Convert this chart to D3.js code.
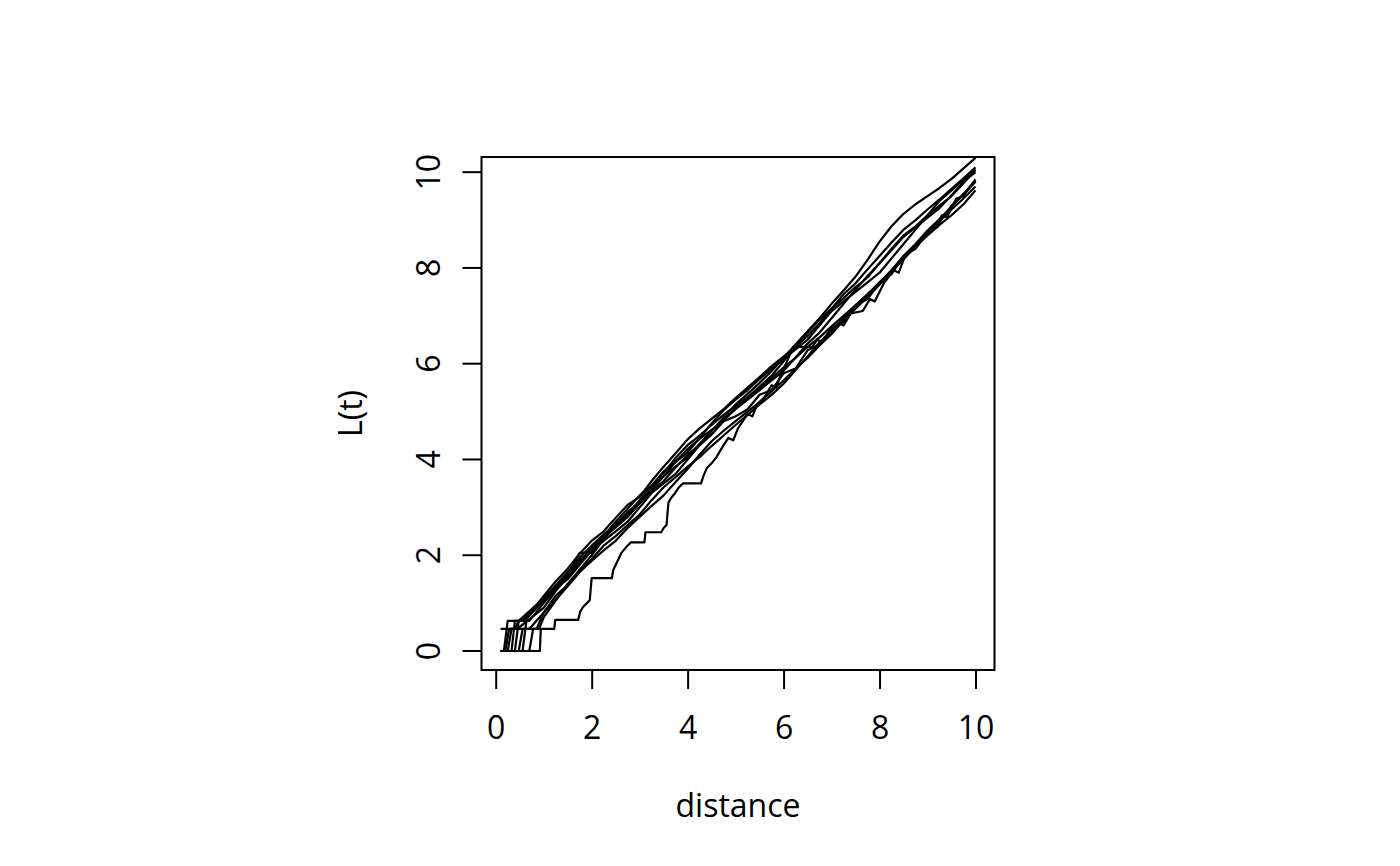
<!DOCTYPE html>
<html>
<head>
<meta charset="utf-8">
<script src="https://cdn.jsdelivr.net/npm/d3@7"></script>
<style>
  body { margin: 0; background: #fff; }
  text { font-family: "Open Sans", sans-serif; fill: #000; }
</style>
</head>
<body>
<svg id="plot" width="1400" height="866"></svg>
<script>
// tick labels
var xTicks = [0, 2, 4, 6, 8, 10];
var yTicks = [0, 2, 4, 6, 8, 10];

// shared distance grid for the smooth-ish curves
var gridX = [1, 1.25, 1.5, 1.75, 2, 2.25, 2.5, 2.75, 3, 3.25, 3.5, 3.75, 4, 4.25, 4.5, 4.75,
  5, 5.25, 5.5, 5.75, 6, 6.25, 6.5, 6.75, 7, 7.25, 7.5, 7.75, 8, 8.25, 8.5, 8.75,
  9, 9.25, 9.5, 9.75, 10];

// early steps (distance, L) of each curve, before it joins the grid
var start1 = [[0.1, 0], [0.17, 0], [0.25, 0.63], [0.55, 0.63]];
var start2 = [[0.1, 0], [0.25, 0], [0.33, 0.46], [0.7, 0.46]];
var start3 = [[0.1, 0], [0.4, 0], [0.48, 0.63], [0.6, 0.63]];
var start4 = [[0.1, 0.46], [0.45, 0.46]];
var start5 = [[0.1, 0], [0.33, 0], [0.4, 0.63], [0.6, 0.63]];
var start6 = [[0.1, 0], [0.48, 0], [0.56, 0.46], [0.85, 0.46]];
var start7 = [[0.1, 0], [0.56, 0], [0.64, 0.63], [0.7, 0.63]];
var start8 = [[0.1, 0], [0.7, 0], [0.78, 0.46], [0.9, 0.46]];
var start9 = [[0.1, 0], [0.2, 0], [0.28, 0.46], [0.4, 0.46], [0.48, 0.63]];

// L(t) values on gridX
var ys1 = [1.10,1.37,1.65,1.95,2.20,2.43,2.65,2.87,3.10,3.37,3.65,3.85,4.05,4.33,4.60,4.87,5.15,5.37,5.60,5.85,6.12,6.40,6.68,6.95,7.25,7.53,7.82,8.17,8.55,8.87,9.13,9.33,9.50,9.67,9.86,10.08,10.30];
var ys2 = [0.80,1.15,1.38,1.65,1.92,2.20,2.40,2.63,2.85,3.15,3.42,3.63,3.85,4.05,4.28,4.50,4.72,4.93,5.15,5.35,5.58,5.87,6.15,6.45,6.68,6.95,7.22,7.45,7.68,7.95,8.22,8.45,8.68,8.90,9.10,9.33,9.62];
var ys3 = [1.15,1.45,1.72,2.03,2.30,2.50,2.78,3.05,3.22,3.55,3.85,4.13,4.42,4.65,4.85,5.05,5.28,5.50,5.72,5.95,6.15,6.37,6.65,6.93,7.15,7.37,7.60,7.80,8.10,8.40,8.68,8.87,9.10,9.30,9.50,9.77,10.05];
var ys4 = [0.90,1.25,1.55,1.85,2.15,2.37,2.58,2.80,3.08,3.35,3.55,3.83,4.10,4.30,4.52,4.80,5.08,5.30,5.52,5.75,6.05,6.35,6.58,6.85,7.15,7.45,7.68,7.97,8.25,8.53,8.80,9.00,9.22,9.43,9.65,9.87,10.10];
var ys5 = [1.05,1.33,1.60,2.05,2.05,2.35,2.62,2.90,3.12,3.43,3.65,3.95,4.22,4.43,4.62,4.80,4.90,5.05,5.35,5.45,5.80,5.90,6.28,6.40,6.75,6.87,7.22,7.35,7.70,7.87,8.25,8.40,8.75,8.95,9.30,9.53,9.80];
var ys6 = [0.80,1.07,1.35,1.65,1.88,2.10,2.30,2.57,2.80,3.03,3.25,3.53,3.80,4.10,4.38,4.60,4.80,5.00,5.20,5.42,5.65,5.90,6.12,6.38,6.62,6.90,7.15,7.40,7.65,7.92,8.18,8.45,8.72,8.98,9.22,9.45,9.70];
var ys7 = [1.00,1.30,1.50,1.80,2.10,2.30,2.50,2.70,3.00,3.30,3.50,3.70,4.00,4.30,4.60,4.83,5.05,5.25,5.45,5.65,5.85,6.13,6.42,6.65,6.95,7.25,7.55,7.83,8.10,8.37,8.65,8.85,9.05,9.25,9.52,9.80,10.00];
var ys8 = [0.70,1.05,1.40,1.70,2.00,2.33,2.62,2.85,3.15,3.45,3.75,3.95,4.15,4.45,4.75,5.03,5.25,5.45,5.68,5.90,6.10,6.30,6.50,6.80,7.10,7.30,7.50,7.70,7.90,8.20,8.50,8.80,9.10,9.40,9.62,9.85,10.05];
var ys9 = [1.10,1.30,1.60,1.90,2.10,2.40,2.70,2.97,3.25,3.45,3.72,4.03,4.30,4.50,4.72,4.93,5.12,5.30,5.48,5.70,5.92,6.12,6.35,6.55,6.78,7.00,7.22,7.45,7.70,7.95,8.25,8.50,8.78,9.02,9.28,9.55,9.82];

// the coarse staircase curve
var stairX = [0.1, 0.92, 0.94, 1.22, 1.24, 1.72, 1.76, 1.82, 1.9, 1.96, 2.0, 2.42, 2.45, 2.55, 2.62, 2.72, 2.82, 3.1, 3.12, 3.45, 3.5, 3.56, 3.6, 3.66, 3.74, 3.82, 3.9, 4.28, 4.32, 4.4, 4.5, 4.6,
  4.75, 4.85, 4.95, 5.05, 5.25, 5.35, 5.45, 5.6, 5.75, 5.85, 5.95, 6.05, 6.2, 6.6, 6.7, 6.8, 7.0, 7.15, 7.25, 7.4, 7.65, 7.8, 7.9, 8.1, 8.3, 8.4, 8.55, 8.75, 8.9, 9.05, 9.2, 9.3, 9.4, 9.6, 9.75, 9.85, 10];
var stairY = [0, 0, 0.46, 0.46, 0.65, 0.65, 0.82, 0.92, 1.0, 1.06, 1.52, 1.52, 1.69, 1.9, 2.05, 2.17, 2.27, 2.27, 2.48, 2.48, 2.57, 2.63, 3.1, 3.2, 3.3, 3.42, 3.5, 3.5, 3.63, 3.82, 3.92, 4.05,
  4.3, 4.45, 4.4, 4.65, 4.95, 4.9, 5.15, 5.3, 5.55, 5.5, 5.8, 6.0, 6.35, 6.35, 6.5, 6.45, 6.7, 6.85, 6.8, 7.05, 7.1, 7.35, 7.3, 7.7, 7.95, 7.9, 8.3, 8.45, 8.6, 8.8, 8.85, 9.1, 9.05, 9.45, 9.5, 9.65, 9.85];

var xRange = [0.1, 10];
var yRange = [0, 9.92];

var starts = [start1, start2, start3, start4, start5, start6, start7, start8, start9];
var values = [ys1, ys2, ys3, ys4, ys5, ys6, ys7, ys8, ys9];

var curves = starts.map(function(s, i) {
  return s.concat(gridX.map(function(d, j) { return [d, values[i][j]]; }));
});
curves.push(stairX.map(function(d, i) { return [d, stairY[i]]; }));

// R like margins, square plotting region
var W = 1400, H = 866;
var margin = {top: 157, right: 81, bottom: 196, left: 157};
var side = H - margin.top - margin.bottom;
var plotLeft = (margin.left + W - margin.right) / 2 - side / 2;
var plotTop = margin.top;

function pad(r) { var d = r[1] - r[0]; return [r[0] - 0.04 * d, r[1] + 0.04 * d]; }

var x = d3.scaleLinear().domain(pad(xRange)).range([plotLeft, plotLeft + side]);
var y = d3.scaleLinear().domain(pad(yRange)).range([plotTop + side, plotTop]);

var svg = d3.select("#plot");

svg.append("defs").append("clipPath").attr("id", "clip")
  .append("rect")
    .attr("x", plotLeft).attr("y", plotTop)
    .attr("width", side).attr("height", side);

var line = d3.line()
  .x(function(d) { return x(d[0]); })
  .y(function(d) { return y(d[1]); });

svg.append("g")
    .attr("clip-path", "url(#clip)")
  .selectAll("path")
  .data(curves)
  .enter().append("path")
    .attr("d", line)
    .attr("fill", "none")
    .attr("stroke", "#000")
    .attr("stroke-width", 2.2)
    .attr("stroke-linejoin", "round");

// box
svg.append("rect")
    .attr("x", plotLeft).attr("y", plotTop)
    .attr("width", side).attr("height", side)
    .attr("fill", "none")
    .attr("stroke", "#000")
    .attr("stroke-width", 2);

// x axis
var gx = svg.append("g")
    .attr("transform", "translate(0," + (plotTop + side) + ")")
    .call(d3.axisBottom(x).tickValues(xTicks).tickSize(19).tickPadding(27));
gx.select(".domain").remove();
gx.selectAll("line").attr("stroke-width", 2);
gx.selectAll("text").style("font-size", "32px").attr("font-family", null);

// y axis
var gy = svg.append("g")
    .attr("transform", "translate(" + plotLeft + ",0)")
    .call(d3.axisLeft(y).tickValues(yTicks).tickSize(19));
gy.select(".domain").remove();
gy.selectAll("line").attr("stroke-width", 2);
gy.selectAll("text")
    .style("font-size", "32px")
    .attr("x", null).attr("dy", null)
    .attr("text-anchor", "middle")
    .attr("transform", function(d) { return "translate(-42," + y(d) + ") rotate(-90)"; });
gy.selectAll(".tick").attr("transform", null);
gy.selectAll(".tick line").attr("transform", function(d) { return "translate(0," + y(d) + ")"; });

// axis titles
svg.append("text")
    .attr("x", plotLeft + side / 2)
    .attr("y", 817)
    .attr("text-anchor", "middle")
    .style("font-size", "32px")
    .text("distance");

svg.append("text")
    .attr("transform", "translate(362," + (plotTop + side / 2) + ") rotate(-90)")
    .attr("text-anchor", "middle")
    .style("font-size", "32px")
    .text("L(t)");
</script>
</body>
</html>
